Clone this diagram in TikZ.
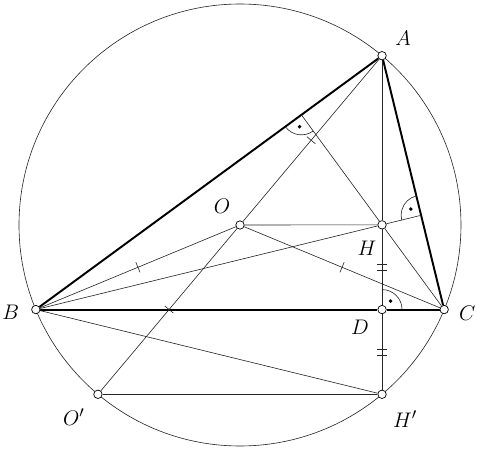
\documentclass[tikz,border=0pt]{standalone}
\usetikzlibrary{calc,angles,decorations.markings,backgrounds}
\begin{document}
\begin{tikzpicture}[
  thinline/.style={line width=0.35pt, draw=black!85},
  side/.style={line width=1.1pt},
  pt/.style={circle, draw, fill=white, line width=0.4pt, inner sep=0pt, minimum size=4.8pt},
  lab/.style={font=\fontsize{13}{15}\selectfont, inner sep=0pt},
  onetick/.style={postaction={decorate,decoration={markings,mark=at position 0.5 with {\draw[line width=0.35pt] (0,-0.11) -- (0,0.11);}}}},
  twotick/.style={postaction={decorate,decoration={markings,mark=at position 0.5 with {\draw[line width=0.35pt] (-0.06,-0.1) -- (-0.06,0.1) (0.06,-0.1) -- (0.06,0.1);}}}},
  rang/.style={draw=black!85, line width=0.35pt, angle radius=0.4cm}
]
\useasboundingbox (-4.8,-4.5) rectangle (4.74,4.5);
\def\R{4.42}
\node[pt] (O) at (0,0) {};
\node[pt] (A) at (50:\R) {};
\node[pt] (B) at (202.5:\R) {};
\node[pt] (C) at (-22.5:\R) {};
\node[pt] (H) at ($(A)+(B)+(C)$) {};
\node[pt] (D) at ($(B)!(A)!(C)$) {};
\node[pt] (Hp) at ($(H)!2!(D)$) {};
\node[pt] (Op) at (230:\R) {};
\coordinate (E) at ($(A)!(B)!(C)$);
\coordinate (F) at ($(A)!(C)!(B)$);

\node[lab] (lA) at ($(A)+(0.42,0.34)$) {$A$};
\node[lab] (lB) at ($(B)+(-0.50,-0.06)$) {$B$};
\node[lab] (lC) at ($(C)+(0.46,-0.08)$) {$C$};
\node[lab] (lD) at ($(D)+(-0.44,-0.36)$) {$D$};
\node[lab] (lO) at ($(O)+(-0.36,0.38)$) {$O$};
\node[lab] (lH) at ($(H)+(-0.30,-0.46)$) {$H$};
\node[lab] (lOp) at ($(Op)+(-0.48,-0.46)$) {$O'$};
\node[lab] (lHp) at ($(Hp)+(0.46,-0.50)$) {$H'$};

\begin{scope}[on background layer]
\draw[thinline] (O.center) circle (\R);
\draw[side] (A) -- (B);
\draw[side] (B) -- (D);
\draw[side] (D) -- (C);
\draw[side] (C) -- (A);
\draw[thinline] (A) -- (H);
\draw[thinline,twotick] (H) -- (D);
\draw[thinline,twotick] (D) -- (Hp);
\draw[thinline] (B) -- (H);
\draw[thinline] (H) -- (E);
\draw[thinline] (C) -- (H);
\draw[thinline] (H) -- (F);
\draw[thinline] (O) -- (H);
\draw[thinline,onetick] (B) -- (O);
\draw[thinline,onetick] (O) -- (C);
\draw[thinline,onetick] (A) -- (O);
\draw[thinline,onetick] (O) -- (Op);
\draw[thinline] (Op) -- (Hp);
\draw[thinline] (B) -- (Hp);
\pic[rang] {angle = C--D--A};
\pic[rang] {angle = A--E--B};
\pic[rang] {angle = B--F--C};
\fill ($(D)!0.24cm!45:(C)$) circle (1.1pt);
\fill ($(E)!0.24cm!45:(A)$) circle (1.1pt);
\fill ($(F)!0.24cm!45:(B)$) circle (1.1pt);
\end{scope}
\end{tikzpicture}
\end{document}
